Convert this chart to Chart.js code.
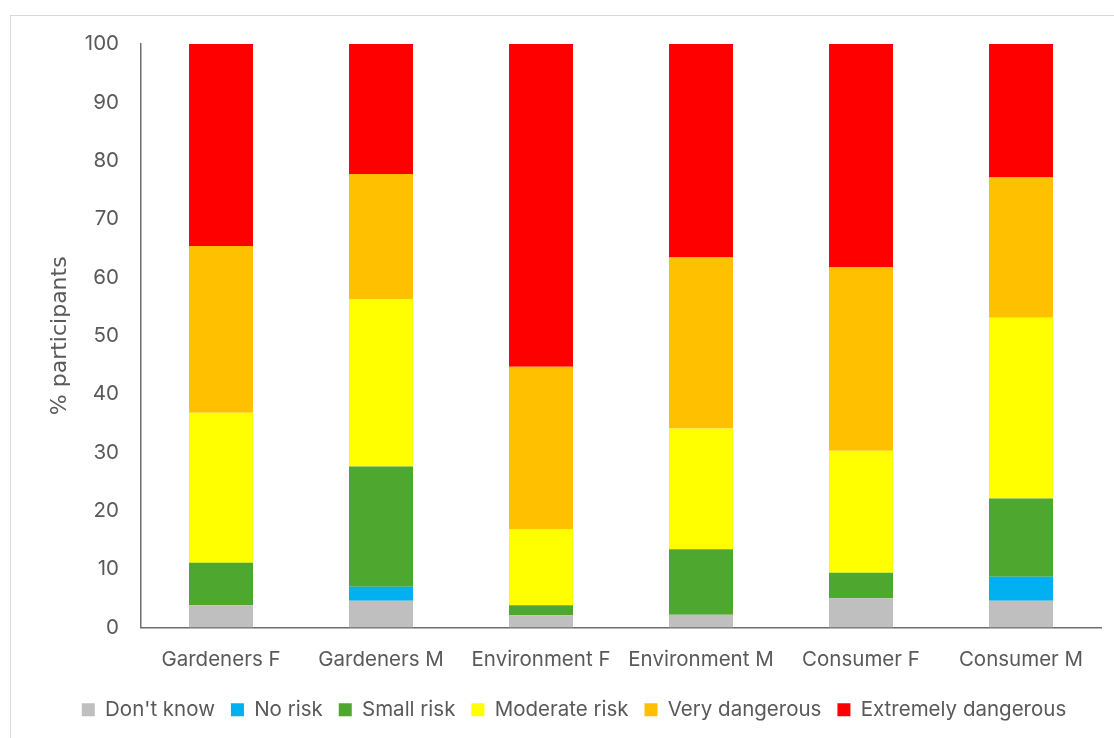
<!DOCTYPE html>
<html>
<head>
<meta charset="utf-8">
<script src="https://cdn.jsdelivr.net/npm/chart.js@4/dist/chart.umd.min.js"></script>
<style>
  html, body { margin: 0; padding: 0; background: #fff; }
  #wrap { position: relative; width: 1114px; height: 738px; overflow: hidden; }
  #frame { position: absolute; left: 10px; top: 15px; width: 1120px; height: 760px;
           border: 1.5px solid #d9d9d9; box-sizing: border-box; }
  canvas { position: absolute; left: 0; top: 0; }
</style>
</head>
<body>
<div id="wrap">
  <div id="frame"></div>
  <canvas id="c" width="1114" height="738"></canvas>
</div>
<script>
// Participant groups
const categories = ['Gardeners F', 'Gardeners M', 'Environment F', 'Environment M', 'Consumer F', 'Consumer M'];

// Share of participants (%) per risk rating, one value per group
const dontKnow          = [3.8, 4.6, 2.1, 2.2, 5.0, 4.6];
const noRisk            = [0.0, 2.4, 0.0, 0.0, 0.0, 4.1];
const smallRisk         = [7.3, 20.6, 1.7, 11.2, 4.4, 13.4];
const moderateRisk      = [25.7, 28.7, 13.0, 20.7, 20.9, 31.0];
const veryDangerous     = [28.6, 21.4, 27.9, 29.3, 31.5, 24.0];
const extremelyDangerous = [34.6, 22.3, 55.3, 36.6, 38.2, 22.9];

const yTicks = [0, 10, 20, 30, 40, 50, 60, 70, 80, 90, 100];

const textColor = '#595959';
const axisColor = '#6e6e6e';
const fontFamily = 'Inter, "Open Sans", sans-serif';

const series = [
  { label: "Don't know", data: dontKnow, color: '#BFBFBF' },
  { label: 'No risk', data: noRisk, color: '#00B0F0' },
  { label: 'Small risk', data: smallRisk, color: '#4EA72E' },
  { label: 'Moderate risk', data: moderateRisk, color: '#FFFF00' },
  { label: 'Very dangerous', data: veryDangerous, color: '#FFC000' },
  { label: 'Extremely dangerous', data: extremelyDangerous, color: '#FF0000' }
];

new Chart(document.getElementById('c'), {
  type: 'bar',
  data: {
    labels: categories,
    datasets: series.map(s => ({
      label: s.label,
      data: s.data,
      backgroundColor: s.color,
      borderWidth: 0,
      categoryPercentage: 1.0,
      barPercentage: 0.4
    }))
  },
  options: {
    responsive: false,
    animation: false,
    layout: { padding: { top: 44, left: 47, right: 13, bottom: 8 } },
    plugins: {
      tooltip: { enabled: false },
      legend: {
        position: 'bottom',
        labels: {
          color: textColor,
          font: { family: fontFamily, size: 20.5 },
          boxWidth: 13,
          boxHeight: 13,
          padding: 16
        }
      }
    },
    scales: {
      x: {
        stacked: true,
        grid: { display: false, drawTicks: false },
        border: { display: true, color: axisColor, width: 1.5 },
        ticks: { color: textColor, font: { family: fontFamily, size: 20.5 }, padding: 20 },
        afterFit: scale => { scale.height = 56; }
      },
      y: {
        stacked: true,
        min: 0,
        max: 100,
        afterBuildTicks: scale => { scale.ticks = yTicks.map(v => ({ value: v })); },
        grid: { display: false, drawTicks: false },
        border: { display: true, color: axisColor, width: 1.5 },
        ticks: { color: textColor, font: { family: fontFamily, size: 20.5 }, padding: 22 },
        title: {
          display: true,
          text: '% participants',
          color: textColor,
          font: { family: '"DejaVu Sans", sans-serif', size: 22 },
          padding: { top: 0, bottom: 0 }
        },
        afterFit: scale => { scale.width = 94; }
      }
    }
  }
});
</script>
</body>
</html>
